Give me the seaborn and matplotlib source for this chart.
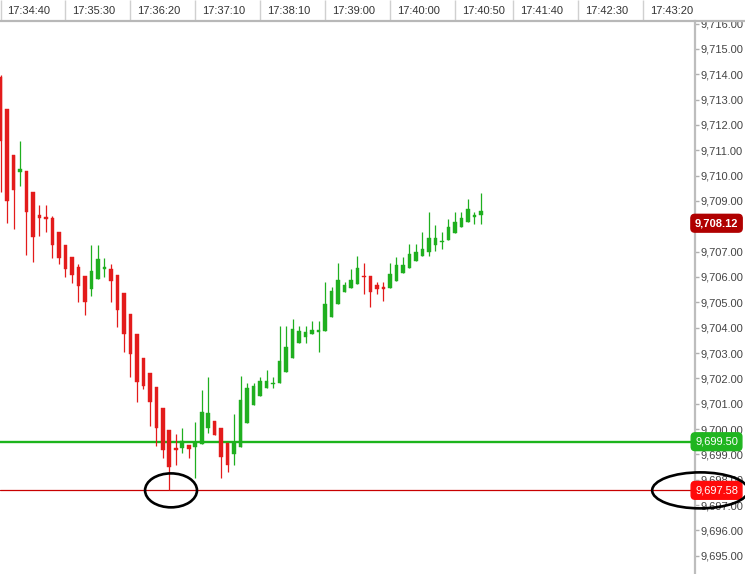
import matplotlib
matplotlib.use("Agg")
import matplotlib.pyplot as plt
import matplotlib.transforms as mtransforms
from matplotlib.lines import Line2D
from matplotlib.patches import Ellipse
from matplotlib.ticker import FuncFormatter
import numpy as np
import pandas as pd
import seaborn as sns

# 5 second candles
opens = [9713.90, 9712.63, 9710.81, 9710.14, 9710.18, 9709.35, 9708.43, 9708.38, 9708.33, 9707.78,
         9707.26, 9706.79, 9706.41, 9706.04, 9705.53, 9705.91, 9706.32, 9706.32, 9706.08, 9705.36,
         9704.53, 9703.75, 9702.79, 9702.23, 9701.65, 9700.82, 9699.96, 9699.24, 9699.24, 9699.37,
         9699.31, 9699.40, 9700.06, 9700.33, 9700.03, 9699.44, 9699.02, 9699.28, 9700.23, 9700.95,
         9701.32, 9701.61, 9701.77, 9701.81, 9702.26, 9702.79, 9703.38, 9703.62, 9703.74, 9703.83,
         9703.87, 9704.41, 9704.92, 9705.40, 9705.55, 9705.72, 9706.05, 9706.03, 9705.68, 9705.59,
         9705.55, 9705.85, 9706.17, 9706.34, 9706.64, 9706.83, 9707.00, 9707.26, 9707.37, 9707.46,
         9707.72, 9707.98, 9708.18, 9708.38, 9708.45]
highs = [9713.95, 9712.63, 9710.81, 9711.38, 9710.18, 9709.35, 9708.84, 9708.84, 9708.40, 9707.78,
         9707.26, 9706.79, 9706.51, 9706.04, 9707.26, 9707.26, 9706.76, 9706.51, 9706.08, 9705.36,
         9704.53, 9703.75, 9702.79, 9702.23, 9701.65, 9700.82, 9699.96, 9699.81, 9700.06, 9699.37,
         9700.29, 9701.54, 9702.07, 9700.33, 9700.03, 9699.44, 9700.58, 9702.10, 9701.83, 9701.83,
         9702.07, 9702.33, 9702.07, 9704.07, 9704.07, 9704.33, 9704.07, 9704.07, 9704.28, 9704.28,
         9705.79, 9705.62, 9706.56, 9705.81, 9706.30, 9706.83, 9706.56, 9706.03, 9705.81, 9705.81,
         9706.54, 9706.80, 9706.80, 9707.30, 9707.30, 9707.79, 9708.55, 9708.05, 9707.79, 9708.29,
         9708.55, 9708.55, 9709.07, 9708.55, 9709.30]
lows = [9709.36, 9708.13, 9707.89, 9709.60, 9706.87, 9706.60, 9707.63, 9707.78, 9706.76, 9706.51,
        9706.01, 9705.75, 9705.03, 9704.50, 9705.26, 9705.91, 9706.01, 9705.03, 9704.04, 9703.05,
        9702.07, 9701.08, 9701.57, 9700.10, 9699.35, 9698.85, 9697.58, 9698.58, 9699.05, 9698.85,
        9698.08, 9699.40, 9699.83, 9699.77, 9698.06, 9698.32, 9698.58, 9699.28, 9700.23, 9700.95,
        9701.32, 9701.61, 9701.61, 9701.81, 9702.26, 9702.79, 9703.38, 9703.39, 9703.74, 9703.05,
        9703.87, 9704.41, 9704.92, 9705.40, 9705.55, 9705.72, 9705.33, 9704.80, 9705.33, 9705.07,
        9705.55, 9705.85, 9706.17, 9706.34, 9706.64, 9706.83, 9706.83, 9707.04, 9707.09, 9707.46,
        9707.72, 9707.98, 9708.18, 9708.08, 9708.08]
closes = [9711.38, 9709.00, 9709.43, 9710.25, 9708.55, 9707.57, 9708.34, 9708.30, 9707.26, 9706.76,
          9706.32, 9706.08, 9705.64, 9705.03, 9706.24, 9706.70, 9706.38, 9705.84, 9704.70, 9703.75,
          9702.96, 9701.87, 9701.70, 9701.08, 9700.03, 9699.18, 9698.52, 9699.18, 9699.54, 9699.20,
          9699.44, 9700.66, 9700.62, 9699.77, 9698.89, 9698.58, 9699.44, 9701.15, 9701.63, 9701.70,
          9701.90, 9701.90, 9701.83, 9702.69, 9703.25, 9703.94, 9703.87, 9703.84, 9703.91, 9703.87,
          9704.94, 9705.45, 9705.87, 9705.70, 9705.88, 9706.37, 9705.99, 9705.39, 9705.52, 9705.53,
          9706.11, 9706.47, 9706.47, 9706.91, 9706.97, 9707.10, 9707.55, 9707.55, 9707.42, 9707.98,
          9708.18, 9708.32, 9708.68, 9708.45, 9708.60]

time_labels = ["17:34:40", "17:35:30", "17:36:20", "17:37:10", "17:38:10", "17:39:00",
               "17:40:00", "17:40:50", "17:41:40", "17:42:30", "17:43:20"]
time_pos = [0, 10, 20, 30, 40, 50, 60, 70, 79, 89, 99]

# right-hand price ticks (9,708.00 sits under the last-price tag, so it is left out)
price_ticks = [v for v in range(9695, 9717) if v != 9708]

last_price = 9708.12
support = 9699.50
low_mark = 9697.58

RED = "#e31b1b"
GREEN = "#1faf1f"

sns.set_theme(style="white")
plt.rcParams["font.family"] = ["Liberation Sans", "DejaVu Sans"]

df = pd.DataFrame({"open": opens, "high": highs, "low": lows, "close": closes})
df["idx"] = np.arange(len(df))
df["up"] = df["close"] >= df["open"]
df["color"] = np.where(df["up"], GREEN, RED)
df["body_lo"] = df[["open", "close"]].min(axis=1)
df["body_h"] = (df["open"] - df["close"]).abs().clip(lower=0.06)

fig = plt.figure(figsize=(7.45, 5.74), dpi=100)
ax = fig.add_axes([0, 0, 695 / 745, 553 / 574])

# wicks + bodies
ax.vlines(df["idx"], df["low"], df["high"], colors=df["color"], lw=0.9, zorder=3)
ax.bar(df["idx"], df["body_h"], bottom=df["body_lo"], width=0.55,
       color=df["color"], edgecolor=df["color"], linewidth=0.3, zorder=4)

ax.axhline(support, color="#1cb41c", lw=1.7, zorder=2)
ax.axhline(low_mark, color="#c80000", lw=0.9, zorder=2)

ax.set_xlim(-0.08, 107.0)
ax.set_ylim(9694.28, 9716.10)

for side in ["top", "bottom", "left"]:
    ax.spines[side].set_visible(False)
ax.spines["right"].set_color("#bdbdbd")
ax.spines["right"].set_linewidth(1.6)

ax.set_xticks([])
ax.yaxis.tick_right()
ax.set_yticks(price_ticks)
ax.yaxis.set_major_formatter(FuncFormatter(lambda v, _: f"{v:,.2f}"))
ax.tick_params(axis="y", length=3, width=1, color="#b0b0b0", pad=1,
               labelsize=8, labelcolor="#444444")

# time strip along the top
fig.add_artist(Line2D([0, 1], [1 - 20.5 / 574] * 2, transform=fig.transFigure,
                      color="#b8b8b8", lw=1.6))
xt = ax.get_xaxis_transform()
ax.vlines(time_pos, 1.0, 1 + 21 / 553, transform=xt, colors="#d0d0d0", lw=1, clip_on=False)
for pos, lab in zip(time_pos, time_labels):
    ax.annotate(lab, xy=(pos, 1.0), xycoords=xt, xytext=(5, 7.5), textcoords="offset points",
                ha="left", va="center", fontsize=8, color="#333333", annotation_clip=False)

# price tags on the right axis
yt = mtransforms.blended_transform_factory(ax.transAxes, ax.transData)
tags = [(last_price, "#b00000", "bold"), (support, "#20b520", "normal"), (low_mark, "#ff0a0a", "normal")]
for val, col, wt in tags:
    ax.text(1.031, val, f"{val:,.2f}", transform=yt, ha="center", va="center",
            fontsize=8, color="white", fontweight=wt, clip_on=False, zorder=10,
            bbox=dict(boxstyle="round,pad=0.35,rounding_size=0.35", fc=col, ec=col))

# circles round the low
low_i = int(df["low"].idxmin())
ax.add_patch(Ellipse((low_i + 0.27, df["low"].min()), 8.0, 1.34, fill=False,
                     ec="black", lw=1.9, zorder=6))
ax.add_patch(Ellipse((107.8, low_mark), 14.8, 1.42, fill=False, ec="black", lw=1.9,
                     zorder=12, clip_on=False))

fig.savefig("out.png", dpi=100)
